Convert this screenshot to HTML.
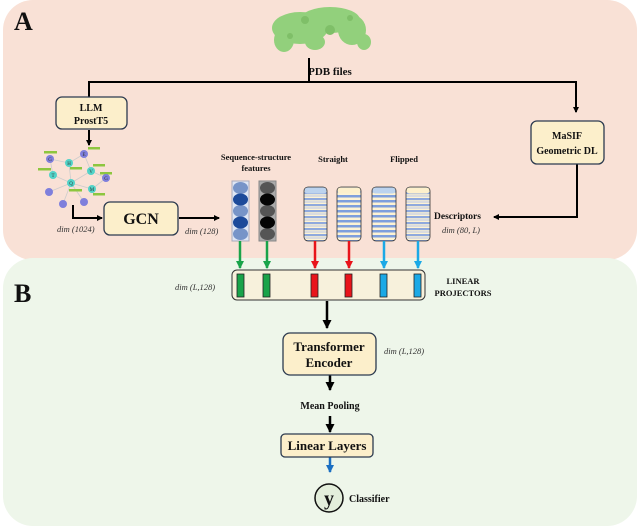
<!DOCTYPE html>
<html><head><style>
html,body{margin:0;padding:0;background:#fff;}
svg{display:block;font-family:"Liberation Serif",serif;}
.b{font-weight:bold;fill:#111;}
.i{font-style:italic;fill:#333;font-size:8.5px;}
</style></head><body>
<svg width="640" height="528" viewBox="0 0 640 528">
<defs>
<marker id="ak" markerWidth="6" markerHeight="6" refX="5" refY="3" orient="auto" markerUnits="userSpaceOnUse"><path d="M0,0L6,3L0,6z" fill="#000"/></marker>
<marker id="ag" markerWidth="8" markerHeight="8" refX="7" refY="4" orient="auto" markerUnits="userSpaceOnUse"><path d="M0,0L8,4L0,8z" fill="#1aa34a"/></marker>
<marker id="ar" markerWidth="8" markerHeight="8" refX="7" refY="4" orient="auto" markerUnits="userSpaceOnUse"><path d="M0,0L8,4L0,8z" fill="#e8141b"/></marker>
<marker id="ac" markerWidth="8" markerHeight="8" refX="7" refY="4" orient="auto" markerUnits="userSpaceOnUse"><path d="M0,0L8,4L0,8z" fill="#1ba9e6"/></marker>
<marker id="ab" markerWidth="8" markerHeight="8" refX="7" refY="4" orient="auto" markerUnits="userSpaceOnUse"><path d="M0,0L8,4L0,8z" fill="#1b6fc2"/></marker>
<marker id="ak2" markerWidth="9" markerHeight="9" refX="8" refY="4.5" orient="auto" markerUnits="userSpaceOnUse"><path d="M0,0L9,4.5L0,9z" fill="#000"/></marker>
<pattern id="s1" width="24" height="6" patternUnits="userSpaceOnUse"><rect width="24" height="6" fill="#fdf3d4"/><rect y="0" width="24" height="2.2" fill="#8fa9dd"/><rect y="3.5" width="24" height="1" fill="#b8c6ea"/></pattern>
<pattern id="s2" width="24" height="5" patternUnits="userSpaceOnUse"><rect width="24" height="5" fill="#fdf3d4"/><rect y="0" width="24" height="2.5" fill="#7f9fdc"/></pattern>
</defs>
<rect x="3" y="0" width="634" height="260" rx="30" fill="#f9e1d6"/>
<rect x="3" y="258" width="634" height="268" rx="30" fill="#eef6ea"/>
<text x="14" y="30" class="b" font-size="26">A</text>
<text x="14" y="302" class="b" font-size="26">B</text>
<!-- protein -->
<g fill="#92d07c">
<ellipse cx="300" cy="28" rx="28" ry="16"/><ellipse cx="330" cy="20" rx="30" ry="13"/><ellipse cx="352" cy="30" rx="14" ry="15"/><ellipse cx="284" cy="40" rx="10" ry="12"/><ellipse cx="315" cy="42" rx="10" ry="8"/><ellipse cx="364" cy="42" rx="7" ry="8"/>
</g>
<g fill="#7fbf68"><circle cx="305" cy="20" r="4"/><circle cx="330" cy="30" r="5"/><circle cx="350" cy="18" r="3"/><circle cx="290" cy="36" r="3"/></g>
<text x="330" y="75" class="b" font-size="11" text-anchor="middle">PDB files</text>
<g stroke="#000" stroke-width="2" fill="none">
<path d="M309 58V82M89 97V82H576V112" marker-end="url(#ak)"/>
<path d="M89 130V145" marker-end="url(#ak)"/>
<path d="M73 205V218H102" marker-end="url(#ak)"/>
<path d="M179 218H219" marker-end="url(#ak)"/>
<path d="M577 164V217H494" marker-end="url(#ak)"/>
<path d="M327 301V328" stroke-width="2.5" marker-end="url(#ak2)"/>
<path d="M330 375V390" stroke-width="2.5" marker-end="url(#ak2)"/>
<path d="M330 416V432" stroke-width="2.5" marker-end="url(#ak2)"/>
</g>
<path d="M89 82V97" stroke="#000" stroke-width="2"/>
<path d="M330 457V472" stroke="#1b6fc2" stroke-width="2.5" marker-end="url(#ab)"/>
<!-- LLM -->
<rect x="56" y="97" width="71" height="32" rx="6" fill="#fcefcb" stroke="#2c3a4f" stroke-width="1.3"/>
<text x="91" y="111" class="b" font-size="10" text-anchor="middle">LLM</text>
<text x="91" y="124" class="b" font-size="10" text-anchor="middle">ProstT5</text>
<!-- graph -->
<g stroke="#ccc" stroke-width="0.8" fill="none"><path d="M50 159L69 163L84 154L91 171L106 178M69 163L71 183L53 175L50 159M71 183L92 189L106 178M71 183L49 192M71 183L63 204M71 183L84 202M91 171L71 183"/></g>
<g fill="#8dc63f"><rect x="44" y="151" width="13" height="2.5"/><rect x="88" y="147" width="12" height="2.5"/><rect x="38" y="168" width="13" height="2.5"/><rect x="70" y="167" width="12" height="2.5"/><rect x="93" y="164" width="12" height="2.5"/><rect x="100" y="172" width="12" height="2.5"/><rect x="69" y="189" width="13" height="2.5"/><rect x="93" y="193" width="12" height="2.5"/></g>
<g fill="#7f7fdc"><circle cx="50" cy="159" r="4"/><circle cx="84" cy="154" r="4"/><circle cx="106" cy="178" r="4"/><circle cx="49" cy="192" r="4"/><circle cx="63" cy="204" r="4"/><circle cx="84" cy="202" r="4"/></g>
<g fill="#52d3c8"><circle cx="69" cy="163" r="4"/><circle cx="53" cy="175" r="4"/><circle cx="91" cy="171" r="4"/><circle cx="71" cy="183" r="4"/><circle cx="92" cy="189" r="4"/></g>
<g font-size="5" fill="#333" text-anchor="middle"><text x="50" y="161">G</text><text x="69" y="165">H</text><text x="84" y="156">E</text><text x="53" y="177">T</text><text x="91" y="173">V</text><text x="106" y="180">G</text><text x="71" y="185">Q</text><text x="92" y="191">M</text></g>
<!-- GCN -->
<rect x="104" y="202" width="74" height="33" rx="6" fill="#fcefcb" stroke="#2c3a4f" stroke-width="1.3"/>
<text x="141" y="224" class="b" font-size="16" text-anchor="middle">GCN</text>
<text x="57" y="232" class="i">dim (1024)</text>
<text x="185" y="234" class="i">dim (128)</text>
<!-- features -->
<text x="256" y="160" class="b" font-size="8.5" text-anchor="middle">Sequence-structure</text>
<text x="256" y="171" class="b" font-size="8.5" text-anchor="middle">features</text>
<rect x="232" y="181" width="17" height="60" fill="#dfe6f4" stroke="#aab"/>
<g fill="#7794c8"><ellipse cx="240.5" cy="188" rx="7.5" ry="6"/><ellipse cx="240.5" cy="211" rx="7.5" ry="6"/><ellipse cx="240.5" cy="234" rx="7.5" ry="6"/></g>
<g fill="#1d4a9a"><ellipse cx="240.5" cy="199.5" rx="7.5" ry="6"/><ellipse cx="240.5" cy="222.5" rx="7.5" ry="6"/></g>
<rect x="259" y="181" width="17" height="60" fill="#aaa" stroke="#888"/>
<g fill="#555"><ellipse cx="267.5" cy="188" rx="7.5" ry="6"/><ellipse cx="267.5" cy="211" rx="7.5" ry="6"/><ellipse cx="267.5" cy="234" rx="7.5" ry="6"/></g>
<g fill="#050505"><ellipse cx="267.5" cy="199.5" rx="7.5" ry="6"/><ellipse cx="267.5" cy="222.5" rx="7.5" ry="6"/></g>
<text x="333" y="162" class="b" font-size="8.5" text-anchor="middle">Straight</text>
<text x="404" y="162" class="b" font-size="8.5" text-anchor="middle">Flipped</text>
<rect x="304" y="187" width="23" height="54" rx="4" fill="url(#s1)" stroke="#333" stroke-width="0.8"/>
<rect x="337" y="187" width="24" height="54" rx="4" fill="url(#s2)" stroke="#333" stroke-width="0.8"/>
<rect x="372" y="187" width="24" height="54" rx="4" fill="url(#s2)" stroke="#333" stroke-width="0.8"/>
<rect x="406" y="187" width="24" height="54" rx="4" fill="url(#s1)" stroke="#333" stroke-width="0.8"/>
<rect x="304.5" y="187.5" width="22" height="6" rx="3" fill="#bcd3ee"/><rect x="337.5" y="187.5" width="23" height="6" rx="3" fill="#fdf0cc"/><rect x="372.5" y="187.5" width="23" height="6" rx="3" fill="#bcd3ee"/><rect x="406.5" y="187.5" width="23" height="6" rx="3" fill="#fdf0cc"/>
<text x="434" y="219" class="b" font-size="9.5">Descriptors</text>
<text x="442" y="233" class="i">dim (80, L)</text>
<!-- MaSIF -->
<rect x="531" y="121" width="73" height="43" rx="6" fill="#fcefcb" stroke="#2c3a4f" stroke-width="1.3"/>
<text x="567" y="139" class="b" font-size="10" text-anchor="middle">MaSIF</text>
<text x="567" y="154" class="b" font-size="10" text-anchor="middle">Geometric DL</text>
<!-- colored arrows -->
<g stroke-width="2.5">
<path d="M240 241V268" stroke="#1aa34a" marker-end="url(#ag)"/>
<path d="M267 241V268" stroke="#1aa34a" marker-end="url(#ag)"/>
<path d="M315 241V268" stroke="#e8141b" marker-end="url(#ar)"/>
<path d="M349 241V268" stroke="#e8141b" marker-end="url(#ar)"/>
<path d="M384 241V268" stroke="#1ba9e6" marker-end="url(#ac)"/>
<path d="M418 241V268" stroke="#1ba9e6" marker-end="url(#ac)"/>
</g>
<rect x="232" y="270" width="193" height="30" rx="5" fill="#f7f1dc" stroke="#333" stroke-width="1"/>
<g stroke="#222" stroke-width="0.8"><rect x="237" y="274" width="7" height="23" fill="#1aa34a"/><rect x="263" y="274" width="7" height="23" fill="#1aa34a"/><rect x="311" y="274" width="7" height="23" fill="#e8141b"/><rect x="345" y="274" width="7" height="23" fill="#e8141b"/><rect x="380" y="274" width="7" height="23" fill="#1ba9e6"/><rect x="414" y="274" width="7" height="23" fill="#1ba9e6"/></g>
<text x="463" y="284" class="b" font-size="8.5" text-anchor="middle">LINEAR</text>
<text x="463" y="296" class="b" font-size="8.5" text-anchor="middle">PROJECTORS</text>
<text x="175" y="290" class="i">dim (L,128)</text>
<!-- transformer -->
<rect x="283" y="333" width="93" height="42" rx="7" fill="#fcefcb" stroke="#2c3a4f" stroke-width="1.3"/>
<text x="329" y="351" class="b" font-size="13" text-anchor="middle">Transformer</text>
<text x="329" y="367" class="b" font-size="13" text-anchor="middle">Encoder</text>
<text x="384" y="354" class="i">dim (L,128)</text>
<text x="330" y="409" class="b" font-size="10" text-anchor="middle">Mean Pooling</text>
<rect x="281" y="434" width="92" height="23" rx="4" fill="#fcefcb" stroke="#2c3a4f" stroke-width="1.3"/>
<text x="327" y="450" class="b" font-size="13" text-anchor="middle">Linear Layers</text>
<circle cx="329" cy="498" r="14" fill="#e3eedb" stroke="#111" stroke-width="1.5"/>
<text x="329" y="505" class="b" font-size="20" text-anchor="middle">y</text>
<text x="349" y="502" class="b" font-size="10">Classifier</text>
</svg>
</body></html>
